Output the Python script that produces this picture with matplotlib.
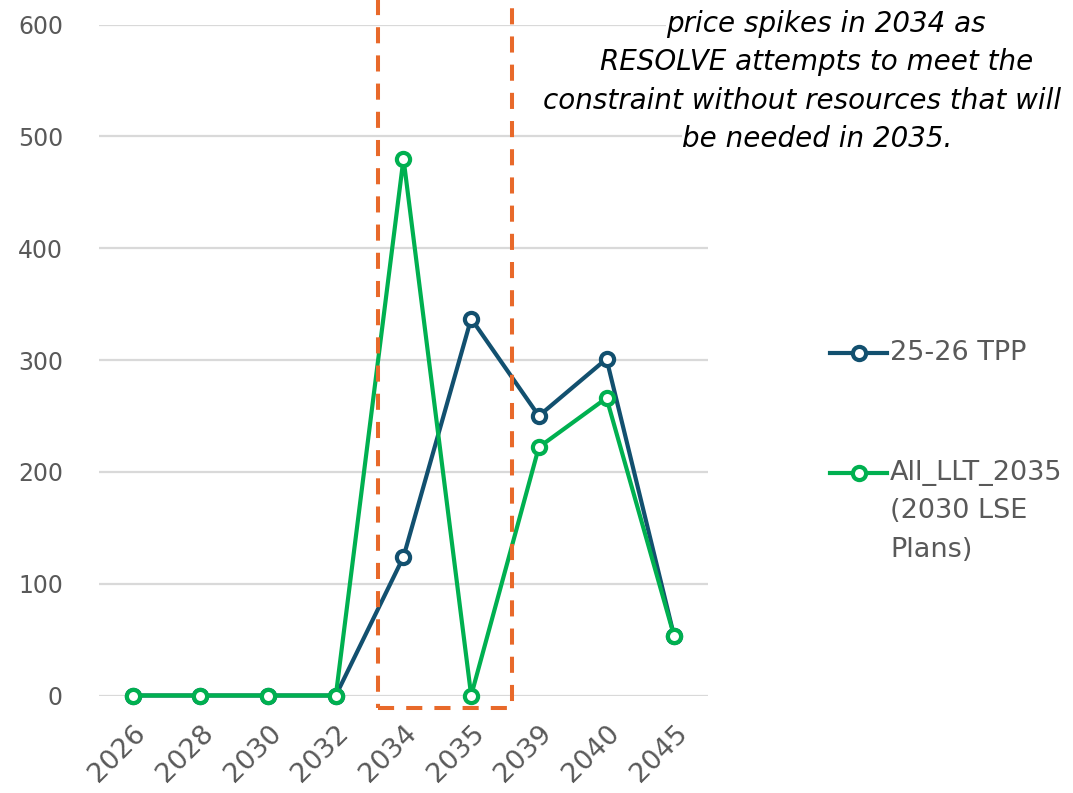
import matplotlib
matplotlib.use("Agg")
import matplotlib.pyplot as plt
from matplotlib.lines import Line2D
from matplotlib.patches import Rectangle

years = ["2026", "2028", "2030", "2032", "2034", "2035", "2039", "2040", "2045"]
tpp = [0, 0, 0, 0, 124, 337, 250, 301, 53]
llt_2035 = [0, 0, 0, 0, 480, 0, 222, 266, 53]
yticks = [0, 100, 200, 300, 400, 500, 600]

note_lines = ["price spikes in 2034 as",
              "RESOLVE attempts to meet the",
              "constraint without resources that will",
              "be needed in 2035."]
note_left = [666, 600, 543, 682]   # left edge of each callout line, px

navy = "#12506f"
green = "#00b050"
orange = "#e8692a"
grey = "#595959"

fig = plt.figure(figsize=(10.73, 7.93), dpi=100)
W, H = 1073, 793
ax = fig.add_axes([99 / W, 1 - 695.5 / H, 609 / W, 671 / H])

x = list(range(len(years)))
for vals, col in [(tpp, navy), (llt_2035, green)]:
    ax.plot(x, vals, color=col, lw=3, marker="o", ms=9.5, mfc="white",
            mec=col, mew=3, clip_on=False, zorder=3)

ax.set_xlim(-0.5, len(years) - 0.5)
ax.set_ylim(0, 600)
ax.set_yticks(yticks)
ax.set_xticks(x)
ax.set_xticklabels(years)
ax.grid(axis="y", color="#d9d9d9", lw=1.6)
ax.set_axisbelow(True)
for s in ax.spines.values():
    s.set_visible(False)
ax.tick_params(length=0, colors=grey)
ax.tick_params(axis="y", pad=26, labelsize=17)
ax.tick_params(axis="x", pad=18, labelsize=19.5)
for lab in ax.get_xticklabels():
    lab.set_rotation(45)
    lab.set_ha("right")
    lab.set_rotation_mode("anchor")
for lab in ax.get_xticklabels() + ax.get_yticklabels():
    lab.set_family("DejaVu Sans")

# dashed box around the 2034-2035 window
i34, i35 = years.index("2034"), years.index("2035")
box = Rectangle((i34 - 0.37, -11), (i35 + 0.61) - (i34 - 0.37), 800,
                fill=False, ec=orange, lw=2.9, ls=(0, (4, 3)),
                clip_on=False, zorder=4)
ax.add_patch(box)

# callout text, each line masks the gridline behind it
for i, line in enumerate(note_lines):
    fig.text(note_left[i] / W, 1 - (24 + 38.3 * i) / H, line, ha="left",
             va="center", fontsize=20, style="italic", family="DejaVu Sans",
             color="black", bbox=dict(fc="white", ec="none", pad=0), zorder=5)

# legend
for ypix, col in [(353, navy), (473, green)]:
    yf = 1 - ypix / H
    fig.add_artist(Line2D([830 / W, 887 / W], [yf, yf], color=col, lw=3))
    fig.add_artist(Line2D([859 / W], [yf], color=col, marker="o", ms=9.5,
                          mfc="white", mec=col, mew=3))
fig.text(890 / W, 1 - 353 / H, "25-26 TPP", va="center", ha="left",
         fontsize=19.5, family="DejaVu Sans", color=grey)
fig.text(890 / W, 1 - 460 / H, "All_LLT_2035\n(2030 LSE\nPlans)", va="top",
         ha="left", fontsize=19.5, family="DejaVu Sans", color=grey,
         linespacing=1.62)

fig.savefig("out.png", dpi=100)
